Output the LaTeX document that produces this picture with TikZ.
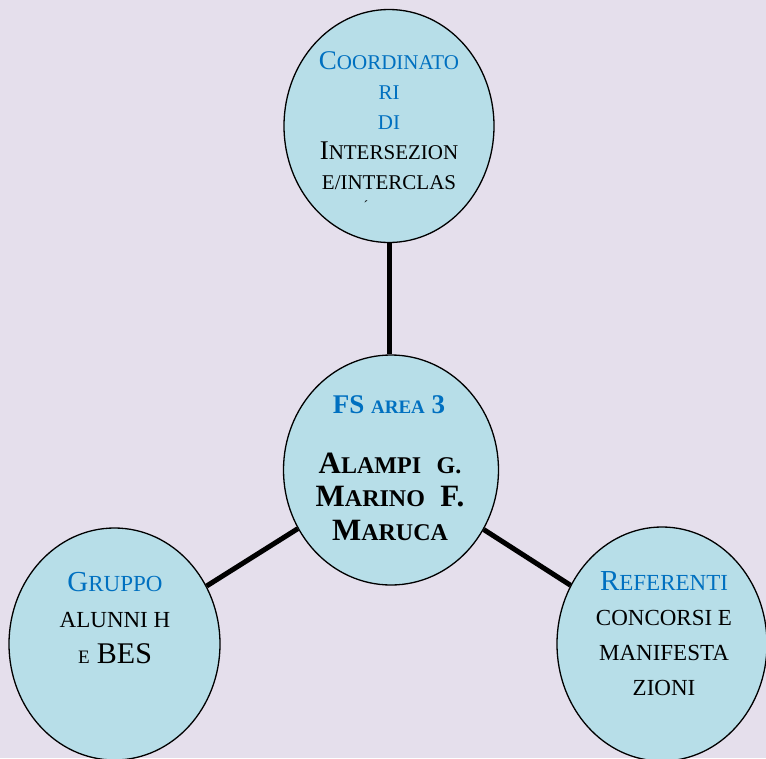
\documentclass[tikz,border=0pt]{standalone}
\usepackage{fontspec}
\setmainfont{Liberation Serif}
\usetikzlibrary{shapes.geometric,
                positioning}

\definecolor{bgcol}{HTML}{E5DFEC}
\definecolor{bubblefill}{HTML}{B7DEE8}
\definecolor{titleblue}{HTML}{0070C0}

\newcommand\lowcaps[2]{{\fontsize{#1}{#1}\selectfont #2}}

\tikzset{bubble/.style={ellipse, draw=black, line width=1.3pt, fill=bubblefill, inner sep=0pt},
         link/.style={line width=5pt},
         bubbletext/.style={align=center, inner sep=0pt, anchor=north}}

\begin{document}
\begin{tikzpicture}%
            [x=1pt, y=-1pt]
            \fill[bgcol] (0,0) rectangle (766,758);
            \useasboundingbox (0,0) rectangle (766,758);

            \node [bubble, minimum width=210pt, minimum height=233pt] (coord) at (389,126) {};
            \node [bubble, minimum width=215pt, minimum height=230pt] (fs) at (391,470) {};
            \node [bubble, minimum width=211pt, minimum height=232pt] (gruppo) at (114.5,644) {};
            \node [bubble, minimum width=210pt, minimum height=234pt] (referenti) at (662,644) {};

            \draw [link] (coord.south) -- (coord.south |- fs.north);
            \draw [link] (gruppo) -- (fs);
            \draw [link] (fs) -- (referenti);

            \node [bubbletext, font=\fontsize{27}{30}\selectfont, text=titleblue] (coordtxt) at (389,51)
                  {C\lowcaps{21}{OORDINATO}\\ \lowcaps{21}{RI}\\ \lowcaps{21}{DI}\\
                   \textcolor{black}{I\lowcaps{21}{NTERSEZION}}\\ \textcolor{black}{\lowcaps{21}{E/INTERCLAS}}};
            \node [font=\fontsize{14}{14}\selectfont, inner sep=0pt] (coordacc) at (366,206) {´};

            \node [bubbletext, font=\bfseries\fontsize{27}{30}\selectfont, text=titleblue] (fstxt) at (389,395)
                  {FS \lowcaps{19}{AREA} 3};
            \node [bubbletext, font=\bfseries\fontsize{31}{33.5}\selectfont] (fsnames) at (390,452.5)
                  {A\lowcaps{24}{LAMPI}\ \ \lowcaps{24}{G.}\\ M\lowcaps{24}{ARINO}\ \ F.\\ M\lowcaps{24}{ARUCA}};

            \node [bubbletext, font=\fontsize{29}{36}\selectfont] (gruppotxt) at (115,571.8)
                  {\textcolor{titleblue}{G\lowcaps{23}{RUPPO}}\\ \lowcaps{23}{ALUNNI H}\\
                   \lowcaps{19}{E} \lowcaps{30}{BES}};

            \node [bubbletext, font=\fontsize{29}{35}\selectfont] (referentitxt) at (664,571.8)
                  {\textcolor{titleblue}{R\lowcaps{23}{EFERENTI}}\\ \lowcaps{23}{CONCORSI E}\\
                   \lowcaps{23}{MANIFESTA}\\ \lowcaps{23}{ZIONI}};
        \end{tikzpicture}
\end{document}
